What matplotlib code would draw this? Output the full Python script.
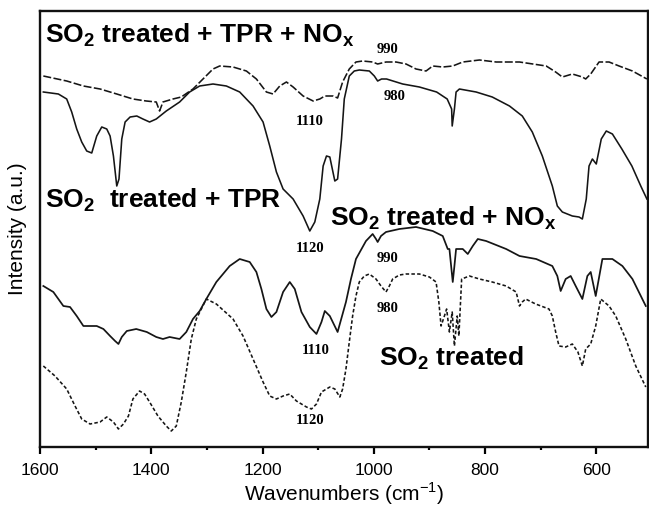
import matplotlib
matplotlib.use("Agg")
import matplotlib.pyplot as plt
from matplotlib.ticker import MultipleLocator

# ---- data (wavenumber cm-1, intensity a.u.) ----
# SO2 treated + TPR + NOx (dashed, top)
wn_tpr_nox = [1594, 1552, 1522, 1492, 1462, 1433, 1409, 1391, 1385, 1379, 1361, 1346,
              1325, 1307, 1289, 1277, 1253, 1229, 1211, 1193, 1181, 1169, 1157, 1145,
              1127, 1109, 1097, 1088, 1079, 1073, 1065, 1056, 1044, 1032, 1020, 1002,
              993, 978, 960, 942, 924, 906, 894, 876, 858, 840, 810, 780, 738, 690,
              673, 661, 643, 625, 619, 610, 595, 577, 559, 535, 509]
in_tpr_nox = [371, 366, 361, 358, 353, 348, 346, 345, 336, 345, 348, 350,
              358, 368, 378, 381, 380, 376, 368, 355, 353, 361, 365, 360,
              351, 346, 348, 351, 351, 351, 349, 365, 378, 385, 386, 385,
              383, 385, 385, 383, 378, 376, 381, 380, 381, 385, 387, 385, 385, 381,
              375, 370, 373, 370, 368, 373, 385, 385, 381, 376, 368]

# SO2 treated + TPR (solid, upper)
wn_tpr = [1594, 1567, 1552, 1543, 1534, 1525, 1516, 1507, 1498, 1489, 1480, 1474,
          1468, 1462, 1458, 1453, 1447, 1438, 1426, 1415, 1403, 1391, 1373, 1349,
          1331, 1313, 1289, 1265, 1241, 1217, 1199, 1187, 1175, 1163, 1145, 1127,
          1115, 1106, 1097, 1091, 1085, 1079, 1070, 1065, 1058, 1053, 1044, 1035,
          1026, 1008, 999, 993, 986, 977, 948, 918, 887, 868, 860, 859, 855, 852,
          846, 816, 787, 756, 733, 715, 697, 679, 670, 661, 643, 631, 625, 618,
          613, 607, 600, 591, 582, 571, 554, 536, 520, 509]
in_tpr = [355, 353, 348, 335, 318, 305, 296, 294, 311, 320, 318, 311,
          291, 261, 268, 308, 325, 330, 331, 328, 325, 328, 336, 345,
          355, 361, 363, 361, 355, 341, 325, 301, 275, 258, 248, 231,
          216, 225, 248, 281, 291, 290, 266, 268, 308, 348, 371, 376,
          377, 376, 371, 366, 368, 368, 363, 360, 355, 348, 338, 321, 338, 355,
          358, 355, 350, 341, 331, 315, 291, 261, 241, 235, 231, 230, 228, 248,
          281, 288, 283, 308, 316, 313, 298, 281, 261, 248]

# SO2 treated + NOx (solid, lower)
wn_nox = [1594, 1576, 1558, 1546, 1534, 1522, 1498, 1486, 1474, 1465, 1459, 1453,
          1444, 1427, 1408, 1391, 1379, 1367, 1349, 1337, 1325, 1313, 1301, 1283,
          1259, 1241, 1223, 1211, 1202, 1193, 1184, 1175, 1163, 1151, 1142, 1130,
          1115, 1103, 1094, 1088, 1079, 1065, 1050, 1041, 1032, 1014, 1002, 996,
          993, 987, 978, 954, 924, 894, 876, 867, 864, 858, 855, 852, 840, 831,
          822, 813, 798, 762, 738, 708, 679, 670, 664, 655, 646, 637, 625, 616,
          610, 601, 589, 571, 553, 535, 511]
in_nox = [161, 155, 141, 140, 131, 121, 121, 118, 111, 106, 103, 110,
          116, 118, 115, 110, 108, 110, 108, 115, 128, 136, 148, 165,
          181, 188, 185, 175, 158, 138, 130, 135, 155, 165, 158, 135,
          120, 113, 125, 136, 131, 115, 145, 168, 188, 206, 213, 208,
          205, 211, 215, 218, 220, 216, 211, 198, 198, 165, 181, 198, 198, 193,
          201, 208, 206, 198, 191, 188, 181, 171, 156, 168, 171, 161, 148, 171,
          175, 151, 188, 188, 181, 168, 141]

# SO2 treated (short dashes, bottom)
wn_so2 = [1594, 1573, 1552, 1537, 1525, 1510, 1492, 1480, 1468, 1459, 1450, 1441,
          1433, 1421, 1412, 1403, 1388, 1373, 1364, 1355, 1346, 1337, 1328, 1319,
          1301, 1283, 1253, 1235, 1217, 1199, 1187, 1175, 1163, 1151, 1139, 1121,
          1112, 1103, 1094, 1079, 1070, 1061, 1056, 1050, 1044, 1038, 1032, 1026,
          1017, 1008, 996, 987, 978, 972, 966, 954, 942, 918, 900, 888, 883, 879,
          873, 869, 864, 859, 855, 850, 847, 842, 828, 810, 787, 762, 744, 738,
          733, 727, 709, 685, 679, 673, 667, 655, 643, 633, 625, 619, 610, 601,
          592, 577, 565, 547, 529, 511]
in_so2 = [81, 71, 58, 41, 28, 23, 25, 30, 25, 18, 23, 31,
          48, 56, 53, 45, 31, 21, 16, 21, 45, 75, 108, 128,
          148, 143, 128, 111, 88, 65, 51, 48, 51, 53, 46, 40,
          38, 43, 55, 60, 58, 50, 58, 78, 105, 131, 151, 165,
          171, 173, 168, 161, 155, 161, 168, 172, 173, 173, 170, 165, 145, 121,
          131, 138, 115, 135, 101, 131, 111, 168, 171, 168, 165, 161, 155, 141,
          145, 148, 143, 138, 131, 115, 101, 100, 103, 95, 81, 98, 103, 121,
          148, 141, 131, 108, 81, 60]

curve_labels = [r"SO$_{\mathregular{2}}$ treated + TPR + NO$_{\mathregular{x}}$",
                r"SO$_{\mathregular{2}}$  treated + TPR",
                r"SO$_{\mathregular{2}}$ treated + NO$_{\mathregular{x}}$",
                r"SO$_{\mathregular{2}}$ treated"]
peak_labels = ["990", "980", "1110", "1120", "990", "980", "1110", "1120"]
xticks = [1600, 1400, 1200, 1000, 800, 600]

# ---- figure ----
fig = plt.figure(figsize=(6.49, 5.07), dpi=100)
ax = fig.add_axes([40/649, 60/507, 608/649, 436/507])
col = "#151515"
ax.plot(wn_tpr_nox, in_tpr_nox, color=col, lw=1.15, dashes=(5, 1.5))
ax.plot(wn_tpr, in_tpr, color=col, lw=1.15)
ax.plot(wn_nox, in_nox, color=col, lw=1.25)
ax.plot(wn_so2, in_so2, color=col, lw=1.15, dashes=(2.2, 1.4))

ax.set_xlim(1600, 507)
ax.set_ylim(0, 436)
ax.set_xticks(xticks)
ax.xaxis.set_minor_locator(MultipleLocator(100))
ax.tick_params(axis="x", which="major", direction="out", length=5, width=1.6,
               labelsize=12.5, pad=6.5)
ax.tick_params(axis="x", which="minor", direction="out", length=2.5, width=1.6)
ax.set_yticks([])
for sp in ax.spines.values():
    sp.set_linewidth(1.7)
    sp.set_color("#111111")
for lab in ax.get_xticklabels():
    lab.set_fontfamily("Liberation Sans")

ax.set_xlabel(r"Wavenumbers (cm$^{\mathregular{-1}}$)", fontsize=15,
              family="Liberation Sans", labelpad=2)
ax.set_ylabel("Intensity (a.u.)", fontsize=15, family="Liberation Sans", labelpad=9)

big = dict(fontsize=19, fontweight="bold", family="Liberation Sans", va="baseline",
           ha="left", color="black")
ax.text(1591, 405, curve_labels[0], **big)
ax.text(1591, 240, curve_labels[1], **big)
ax.text(1079, 221, curve_labels[2], **big)
ax.text(990, 81, curve_labels[3], **big)

small = dict(fontsize=10.5, fontweight="bold", family="Liberation Serif", va="center",
             ha="center", color="black")
peak_pos = [(975, 398), (963, 351), (1115, 326), (1114, 198),
            (975, 189), (975, 138), (1105, 96), (1114, 26)]
for t, (x, y) in zip(peak_labels, peak_pos):
    ax.text(x, y, t, **small)

fig.savefig("out.png", dpi=100)
